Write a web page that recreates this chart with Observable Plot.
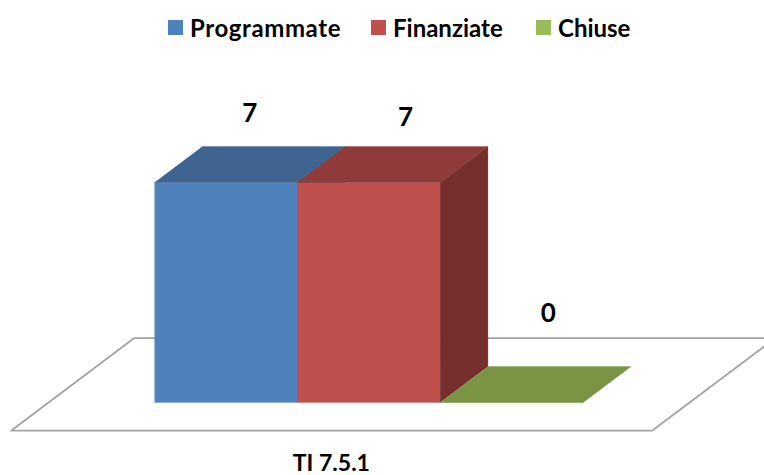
<!DOCTYPE html>
<html><head><meta charset="utf-8">
<script src="https://cdn.jsdelivr.net/npm/d3@7"></script>
<script src="https://cdn.jsdelivr.net/npm/@observablehq/plot@0.6"></script>
<style>
html,body{margin:0;padding:0;background:#fff;overflow:hidden}
#legend{box-sizing:border-box;height:50px;padding:5px 0 0 168px;display:flex;align-items:center;font:bold 24px Lato,sans-serif;color:#000}
.item{display:flex;align-items:center;white-space:nowrap}
.item:nth-child(1){width:203px;letter-spacing:.6px}
.item:nth-child(2){width:165px}
.sw{width:15px;height:15px;margin-right:7px;flex:none}
svg{display:block}
</style></head><body>
<div id="legend"></div>
<div id="chart"></div>
<script>
const category = "TI 7.5.1";
const series = ["Programmate", "Finanziate", "Chiuse"];
const values = [7, 7, 0];

const frontColors = ["#4F81BD", "#C0504D", "#9BBB59"];
const topColors = ["#3E648F", "#8E3B39", "#7A9444"];
const sideColors = ["#355678", "#772F2D", "#66803A"];

// oblique projection, in data units per unit of depth
const depthX = 0.335, depthY = 1.145;
const floorNear = -0.78, floorFar = 1.79, floorLeft = -0.741, floorRight = 3.748;
// hand-placed value labels (nudge in data units)
const labelNudgeX = [0, 0.09, 0.09];
const labelNudgeY = [1.62, 1.5, 2.25];

const project = (x, v, d) => ({x: x + d * depthX, y: v + d * depthY});
const faces = [];
series.forEach((s, i) => {
  const v = values[i];
  const add = (face, color, pts) => pts.forEach(p => faces.push({...project(...p), face: s + face, color}));
  add("front", frontColors[i], [[i,0,0],[i+1,0,0],[i+1,v,0],[i,v,0]]);
  add("top", topColors[i], [[i,v,0],[i+1,v,0],[i+1,v,1],[i,v,1]]);
  add("side", sideColors[i], [[i+1,0,0],[i+1,0,1],[i+1,v,1],[i+1,v,0]]);
});
const floor = [[floorLeft,floorNear],[floorRight,floorNear],[floorRight,floorFar],[floorLeft,floorFar],[floorLeft,floorNear]]
  .map(([x,d]) => project(x,0,d));
const labels = series.map((s,i) => ({
  ...project(i + 0.5 + labelNudgeX[i], values[i] + labelNudgeY[i], 0.5), text: String(values[i])
}));

const legend = d3.select("#legend");
series.forEach((s,i) => {
  const it = legend.append("div").attr("class","item");
  it.append("div").attr("class","sw").style("background",frontColors[i]);
  it.append("div").text(s);
});

const pxX = 142.8, pxY = 220/7;
const chart = Plot.plot({
  width: 764, height: 425,
  margin: 0,
  x: {domain: [-154/pxX, 610/pxX], axis: null},
  y: {domain: [-73/pxY, 352/pxY], axis: null},
  color: {type: "identity"},
  marks: [
    Plot.line(floor, {x:"x", y:"y", stroke:"#A3A3A3", strokeWidth:1.8}),
    Plot.line(faces, {x:"x", y:"y", z:"face", fill:"color", stroke:"color", strokeWidth:0.3}),
    Plot.text(labels, {x:"x", y:"y", text:"text", fontSize:26, fontWeight:"bold", fontFamily:"Lato, sans-serif", fill:"#000"}),
    Plot.text([category], {x:[project(1.5,0,floorNear).x], frameAnchor:"bottom", lineAnchor:"middle", dy:-12, text:d=>d, fontSize:23, fontWeight:"bold", fontFamily:"Lato, sans-serif", fill:"#000"})
  ]
});
document.getElementById("chart").append(chart);
</script>
</body></html>
